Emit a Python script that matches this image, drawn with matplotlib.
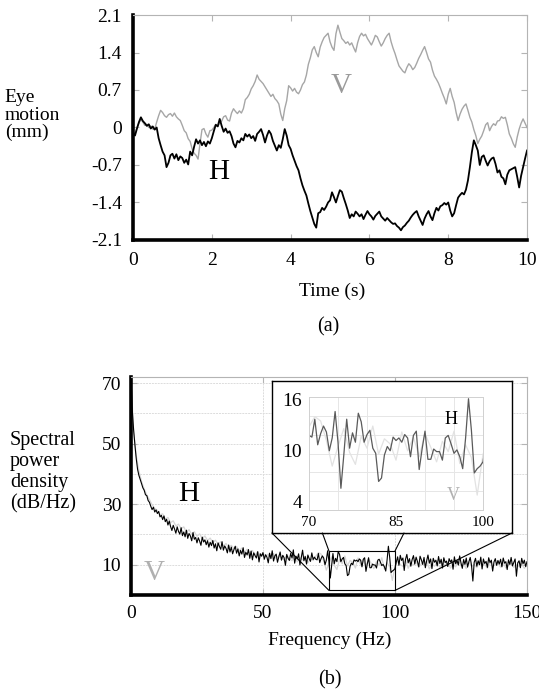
import numpy as np
import matplotlib
matplotlib.use("Agg")
import matplotlib.pyplot as plt
from matplotlib.patches import Rectangle, ConnectionPatch

plt.rcParams['font.family'] = ['Liberation Serif', 'DejaVu Serif']

# (a) eye motion, mm, sampled every 0.05 s from 0 to 10 s
eye_h = [
    -0.10, -0.15, -0.02, 0.10, 0.19, 0.12, 0.08, 0.03, 0.06, -0.02,
    0.02, -0.04, 0.00, -0.20, -0.33, -0.45, -0.52, -0.74, -0.66, -0.52,
    -0.49, -0.58, -0.50, -0.61, -0.54, -0.57, -0.66, -0.60, -0.69, -0.45,
    -0.52, -0.36, -0.22, -0.30, -0.24, -0.33, -0.27, -0.35, -0.26, -0.30,
    -0.20, -0.07, 0.05, 0.02, 0.16, 0.03, -0.08, -0.02, -0.10, -0.07,
    -0.16, -0.30, -0.37, -0.25, -0.28, -0.20, -0.24, -0.12, -0.17, -0.13,
    -0.20, -0.16, -0.25, -0.12, -0.08, -0.03, -0.14, -0.28, -0.15, -0.06,
    -0.12, -0.25, -0.34, -0.43, -0.33, -0.38, -0.22, -0.03, -0.15, -0.33,
    -0.40, -0.52, -0.62, -0.72, -0.80, -0.95, -1.08, -1.18, -1.27, -1.42,
    -1.56, -1.68, -1.80, -1.87, -1.60, -1.58, -1.50, -1.54, -1.48, -1.40,
    -1.36, -1.21, -1.30, -1.40, -1.28, -1.17, -1.20, -1.32, -1.43, -1.55,
    -1.69, -1.62, -1.66, -1.57, -1.61, -1.66, -1.62, -1.71, -1.63, -1.56,
    -1.62, -1.66, -1.72, -1.65, -1.61, -1.57, -1.66, -1.70, -1.74, -1.69,
    -1.73, -1.77, -1.80, -1.79, -1.84, -1.87, -1.92, -1.86, -1.83, -1.78,
    -1.74, -1.68, -1.63, -1.59, -1.56, -1.66, -1.74, -1.82, -1.70, -1.62,
    -1.56, -1.66, -1.73, -1.60, -1.50, -1.55, -1.47, -1.45, -1.41, -1.44,
    -1.40, -1.55, -1.66, -1.60, -1.45, -1.31, -1.26, -1.22, -1.25, -1.16,
    -0.99, -0.74, -0.46, -0.24, -0.33, -0.43, -0.70, -0.55, -0.52, -0.62,
    -0.71, -0.63, -0.58, -0.56, -0.68, -0.84, -0.80, -0.92, -0.95, -1.06,
    -0.88, -0.80, -0.78, -0.76, -0.74, -0.92, -1.12, -0.90, -0.74, -0.58,
    -0.43,
]
eye_v = [
    -0.08, -0.12, 0.00, 0.08, 0.15, 0.10, 0.04, 0.06, 0.00, 0.03,
    -0.03, -0.03, 0.10, 0.22, 0.32, 0.28, 0.22, 0.19, 0.24, 0.26,
    0.21, 0.27, 0.20, 0.16, 0.13, 0.04, -0.06, -0.10, -0.21, -0.26,
    -0.40, -0.48, -0.52, -0.59, -0.30, -0.04, -0.02, -0.12, -0.18, -0.06,
    -0.05, 0.00, 0.06, 0.02, 0.08, 0.12, 0.20, 0.22, 0.14, 0.12,
    0.27, 0.35, 0.30, 0.26, 0.31, 0.27, 0.35, 0.52, 0.56, 0.62,
    0.72, 0.78, 0.86, 0.98, 0.90, 0.86, 0.82, 0.76, 0.70, 0.64,
    0.58, 0.62, 0.54, 0.50, 0.44, 0.25, 0.13, 0.35, 0.50, 0.78,
    0.74, 0.68, 0.73, 0.66, 0.63, 0.70, 0.80, 0.85, 0.98, 1.18,
    1.30, 1.45, 1.51, 1.40, 1.32, 1.50, 1.60, 1.68, 1.72, 1.76,
    1.60, 1.50, 1.44, 1.75, 1.91, 1.78, 1.66, 1.62, 1.57, 1.60,
    1.54, 1.58, 1.49, 1.41, 1.58, 1.70, 1.76, 1.71, 1.74, 1.66,
    1.60, 1.54, 1.62, 1.72, 1.69, 1.60, 1.52, 1.58, 1.66, 1.72,
    1.76, 1.60, 1.48, 1.38, 1.26, 1.15, 1.10, 1.05, 1.02, 1.12,
    1.19, 1.15, 1.08, 1.12, 1.20, 1.29, 1.36, 1.44, 1.51, 1.40,
    1.28, 1.22, 1.07, 0.96, 0.90, 0.83, 0.74, 0.64, 0.55, 0.44,
    0.62, 0.73, 0.58, 0.47, 0.28, 0.13, 0.25, 0.34, 0.40, 0.44,
    0.32, 0.19, 0.10, -0.04, -0.15, -0.30, -0.22, -0.16, -0.06, 0.05,
    0.09, -0.06, 0.02, 0.07, 0.04, 0.12, 0.13, 0.20, 0.17, 0.19,
    0.05, -0.12, -0.20, -0.30, -0.37, -0.18, -0.03, 0.08, 0.16, 0.08,
    0.00,
]
time_s = np.linspace(0, 10, len(eye_h))

# (b) spectral power density, dB/Hz; H every 0.5 Hz, V every 1 Hz (0..150 Hz)
psd_h = [
    72.0, 61.0, 54.5, 49.5, 45.0, 41.5, 39.5, 38.2, 36.8, 35.4, 34.6, 33.1, 32.8, 31.2, 30.6, 29.3, 28.2, 29.0, 27.4, 28.1,
    26.9, 27.6, 25.8, 26.3, 24.9, 26.1, 24.2, 25.0, 23.1, 24.4, 22.6, 21.3, 23.0, 21.8, 20.4, 22.5, 21.0, 20.1, 22.2, 19.6,
    20.8, 19.2, 21.4, 18.7, 20.3, 19.5, 17.9, 20.6, 18.4, 19.0, 17.2, 18.9, 17.8, 16.4, 19.1, 17.5, 18.2, 16.6, 17.9, 15.8,
    17.4, 16.3, 18.0, 15.5, 16.9, 14.6, 17.2, 16.0, 15.1, 17.6, 14.8, 16.2, 15.4, 13.9, 16.5, 14.2, 15.8, 13.6, 15.0, 16.1,
    13.8, 15.2, 12.9, 14.7, 13.5, 15.6, 12.4, 14.1, 13.2, 15.0, 12.1, 14.5, 11.6, 13.9, 13.0, 12.2, 14.3, 10.9, 13.6, 12.8,
    14.0, 11.8, 13.3, 12.5, 10.6, 13.8, 12.0, 14.6, 11.2, 12.9, 13.5, 10.8, 12.6, 14.2, 11.5, 13.1, 12.3, 9.8, 13.4, 12.1,
    11.4, 13.7, 12.2, 14.9, 10.5, 12.8, 11.9, 13.6, 9.9, 12.4, 14.8, 11.3, 12.7, 10.2, 13.2, 12.0, 11.1, 13.9, 11.7, 12.5,
    # 70 .. 100 Hz
    11.8, 11.6, 13.7, 10.7, 12.0, 12.9, 12.2, 10.0, 11.5, 14.6, 11.0, 5.6, 9.5, 13.7, 10.3, 12.1, 11.0, 14.4, 13.4, 11.0,
    11.9, 12.4, 10.3, 9.7, 6.4, 6.8, 9.5, 10.5, 10.0, 11.6, 11.2, 11.5, 11.0, 11.9, 11.5, 9.3, 11.8, 12.3, 7.8, 10.2,
    12.3, 9.0, 9.0, 10.2, 9.9, 9.9, 8.9, 11.5, 11.8, 10.8, 9.7, 10.1, 9.3, 7.9, 11.5, 16.1, 12.4, 7.4, 7.9, 8.2,
    8.7,
    # 100.5 .. 150 Hz
    10.9, 12.6, 9.8, 13.1, 11.4, 12.2, 8.1, 11.8, 13.4, 10.6, 12.0, 9.5, 11.7, 13.0, 10.2, 12.5, 11.1, 9.3, 12.8,
    11.6, 10.1, 12.4, 9.0, 11.3, 13.2, 10.5, 11.9, 8.7, 12.1, 10.8, 11.5, 9.6, 12.7, 10.4, 11.8, 8.9, 12.3, 10.7, 11.2,
    9.4, 12.0, 10.9, 11.6, 8.5, 12.6, 10.3, 11.4, 9.9, 12.9, 10.6, 8.8, 11.7, 10.1, 12.2, 9.2, 11.0, 12.4, 9.7, 4.6,
    10.8, 12.1, 9.5, 11.3, 10.0, 12.5, 8.6, 11.9, 10.4, 11.1, 9.1, 12.3, 10.7, 11.5, 7.9, 10.9, 12.0, 9.8, 11.4, 10.2,
    11.8, 9.3, 12.2, 10.5, 11.0, 8.4, 11.6, 10.1, 12.4, 9.6, 10.8, 11.9, 6.2, 10.6, 11.3, 9.0, 12.1, 10.3, 11.5, 9.4,
    11.0,
]
psd_v = [
    71.0, 54.0, 46.0, 41.0, 37.5, 35.0, 33.0, 31.5, 29.8, 28.6,
    27.9, 26.5, 26.8, 25.0, 25.6, 23.9, 24.5, 22.8, 23.4, 21.9,
    22.5, 20.7, 21.6, 20.0, 20.9, 19.4, 20.2, 18.6, 19.5, 18.0,
    18.8, 17.3, 18.1, 16.7, 17.6, 16.2, 17.0, 15.6, 16.4, 15.3,
    16.0, 14.6, 15.5, 14.0, 15.1, 13.6, 14.7, 13.2, 14.3, 12.9,
    13.9, 12.6, 13.5, 12.2, 13.7, 11.9, 13.0, 12.4, 11.5, 13.2,
    12.0, 11.3, 12.8, 10.9, 12.3, 11.6, 12.9, 10.6, 12.1, 11.4,
    12.8, 14.0, 13.5, 11.2, 8.2, 10.5, 12.6, 9.8, 8.4, 11.7,
    10.3, 12.9, 9.6, 11.4, 10.8, 8.9, 12.2, 10.0, 11.6, 9.3,
    12.0, 10.4, 8.7, 11.1, 9.9, 12.3, 8.5, 10.7, 9.2, 4.8,
    9.6, 11.2, 10.1, 9.4, 11.5, 8.8, 10.6, 9.9, 11.0, 9.1,
    10.4, 9.7, 11.3, 8.6, 10.2, 9.5, 11.1, 9.0, 10.5, 9.8,
    10.9, 8.9, 10.0, 9.3, 11.2, 9.6, 10.3, 8.7, 10.8, 9.4,
    10.1, 9.0, 11.0, 9.5, 10.2, 8.8, 10.7, 9.6, 9.9, 10.4,
    9.2, 10.6, 8.9, 9.8, 10.5, 9.1, 10.0, 9.4, 10.3, 8.8, 9.7,
]
freq_h = np.linspace(0, 150, len(psd_h))
freq_v = np.linspace(0, 150, len(psd_v))

EDGE = '#b4b4b4'


def style_axes(ax):
    for side in ('left', 'bottom'):
        ax.spines[side].set_linewidth(2.6)
        ax.spines[side].set_color('black')
    for side in ('top', 'right'):
        ax.spines[side].set_linewidth(0.8)
        ax.spines[side].set_color(EDGE)
    ax.tick_params(direction='in', length=4, color=EDGE, labelsize=14,
                   top=True, right=True)


fig = plt.figure(figsize=(5.39, 6.98), dpi=100)

# ---- (a) ----
ax1 = fig.add_axes([0.2468, 0.6562, 0.731, 0.3223])
ax1.plot(time_s, eye_v, color='#a6a6a6', lw=1.0)
ax1.plot(time_s, eye_h, color='black', lw=1.3)
ax1.set_xlim(0, 10)
ax1.set_ylim(-2.1, 2.1)
ax1.set_xticks([0, 2, 4, 6, 8, 10])
ax1.set_yticks([-2.1, -1.4, -0.7, 0, 0.7, 1.4, 2.1])
ax1.set_yticklabels(['-2.1', '-1.4', '-0.7', '0', '0.7', '1.4', '2.1'])
style_axes(ax1)
ax1.tick_params(axis='y', pad=8)
ax1.tick_params(axis='x', pad=9)
ax1.text(2.18, -0.84, 'H', fontsize=21, ha='center', va='center')
ax1.text(5.28, 0.77, 'V', fontsize=21, color='#9a9a9a', ha='center', va='center')

fig.text(0.009, 0.835, 'Eye\nmotion\n(mm)', fontsize=14, ha='left', va='center',
         linespacing=1.05)
fig.text(0.616, 0.583, 'Time (s)', fontsize=14, ha='center', va='center')
fig.text(0.6085, 0.5315, '(a)', fontsize=14.5, ha='center', va='center')

# ---- (b) ----
ax2 = fig.add_axes([0.243, 0.1476, 0.7347, 0.3123])
ax2.plot(freq_v, psd_v, color='#d6d6d6', lw=0.9)
ax2.plot(freq_h, psd_h, color='black', lw=0.8)
ax2.set_xlim(0, 150)
ax2.set_ylim(0, 72)
ax2.set_xticks([0, 50, 100, 150])
ax2.set_yticks([10, 30, 50, 70])
ax2.set_yticks([20, 40, 60], minor=True)
ax2.grid(True, which='both', color='#dcdcdc', lw=0.7, ls=(0, (2, 1)))
ax2.tick_params(which='minor', length=0)
style_axes(ax2)
ax2.tick_params(axis='y', pad=7)
ax2.tick_params(axis='x', pad=7)
ax2.text(22, 33.4, 'H', fontsize=21, ha='center', va='center')
ax2.text(8.7, 7.1, 'V', fontsize=21, color='#b0b0b0', ha='center', va='center')

fig.text(0.0186, 0.324, 'Spectral\npower\ndensity\n(dB/Hz)', fontsize=14.5,
         ha='left', va='center', linespacing=1.15)
fig.text(0.612, 0.083, 'Frequency (Hz)', fontsize=14, ha='center', va='center')
fig.text(0.612, 0.026, '(b)', fontsize=14.5, ha='center', va='center')

# zoom rectangle on the main spectrum
ax2.add_patch(Rectangle((75, 1.5), 25, 13, fill=False, ec='black', lw=0.8, zorder=5))

# white box holding the inset
box = fig.add_axes([0.5046, 0.2364, 0.4453, 0.2178])
box.set_xticks([])
box.set_yticks([])
for sp in box.spines.values():
    sp.set_linewidth(1.0)
    sp.set_color('black')

for (xa, ya), (xb, yb) in [((75, 1.5), (0, 0)), ((100, 1.5), (1, 0)),
                            ((75, 14.5), (0.21, 0)), ((100, 14.5), (0.55, 0))]:
    con = ConnectionPatch(xyA=(xa, ya), coordsA=ax2.transData,
                          xyB=(xb, yb), coordsB=box.transAxes,
                          color='black', lw=0.8)
    fig.add_artist(con)

ins = fig.add_axes([0.5733, 0.2693, 0.3228, 0.1619])
ins.plot(freq_v, psd_v, color='#e2e2e2', lw=0.9)
ins.plot(freq_h, psd_h, color='#5a5a5a', lw=0.9)
ins.set_xlim(70, 100)
ins.set_ylim(3.05, 16.3)
ins.set_xticks([70, 85, 100])
ins.set_yticks([4, 10, 16])
ins.set_xticks([75, 80, 90, 95], minor=True)
ins.set_yticks(np.linspace(3.05, 16.3, 7)[1:-1], minor=True)
ins.grid(True, which='minor', color='#e6e6e6', lw=0.7)
ins.tick_params(which='both', length=0)
ins.tick_params(axis='y', labelsize=14, pad=5)
ins.tick_params(axis='x', labelsize=11, pad=4)
for sp in ins.spines.values():
    sp.set_color('#d0d0d0')
    sp.set_linewidth(0.7)
ins.text(94.4, 13.7, 'H', fontsize=13, ha='center', va='center')
ins.text(94.9, 4.8, 'V', fontsize=13, color='#b0b0b0', ha='center', va='center')

fig.savefig('out.png', dpi=100)
plt.close(fig)
print("Done.")
